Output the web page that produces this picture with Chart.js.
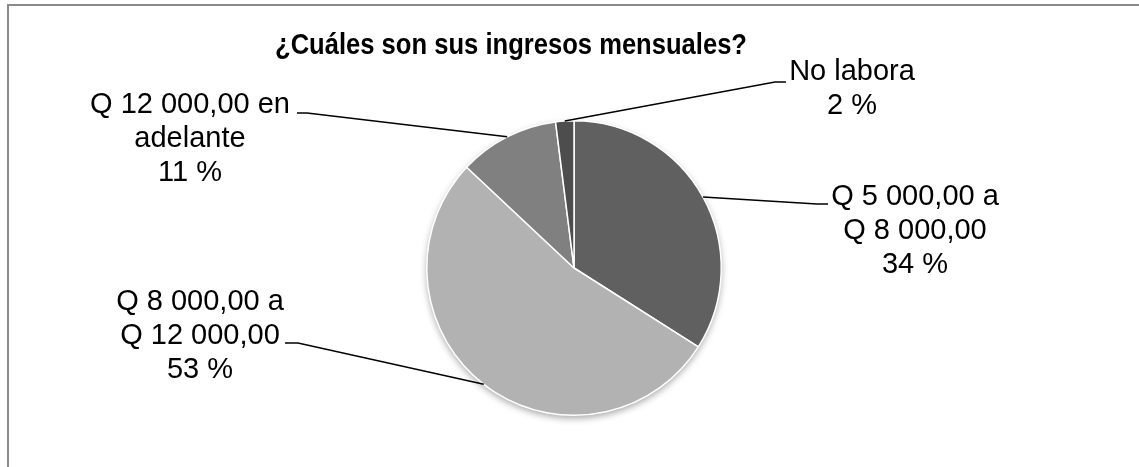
<!DOCTYPE html>
<html lang="es">
<head>
<meta charset="utf-8">
<script src="https://cdn.jsdelivr.net/npm/chart.js@4"></script>
<style>
html, body { margin: 0; padding: 0; background: #fff; overflow: hidden; }
#marco { position: absolute; left: 7px; top: 4px; width: 1200px; height: 600px; border: 2px solid #8a8a8a; }
#wrap { position: absolute; left: 0; top: 0; width: 1139px; height: 467px; }
</style>
</head>
<body>
<div id="marco"></div>
<div id="wrap"><canvas id="chartIngresos" width="1139" height="467"></canvas></div>
<script>
const titulo = '¿Cuáles son sus ingresos mensuales?';
const categorias = [
    ['Q 5 000,00 a', 'Q 8 000,00'],
    ['Q 8 000,00 a', 'Q 12 000,00'],
    ['Q 12 000,00 en', 'adelante'],
    ['No labora']
];
const porcentajes = [34, 53, 11, 2];
const colores = ['#606060', '#b2b2b2', '#808080', '#4d4d4d'];

// donde va cada etiqueta (centro del texto, primera linea) y el quiebre de la linea guia
const etiquetas = [
    { x: 915, y: 197, codo: [817, 204], fin: [828, 204] },
    { x: 200, y: 302, codo: [298, 343], fin: [285, 343] },
    { x: 190, y: 105, codo: [307, 113], fin: [297, 113] },
    { x: 852, y: 72,  codo: [775, 82],  fin: [786, 82] },
];
const FUENTE = '"Liberation Sans", Arial, sans-serif';

const chartEl = document.getElementById('chartIngresos');
const chart = new Chart(chartEl, {
    type: 'pie',
    data: {
        labels: categorias,
        datasets: [{
            data: porcentajes,
            backgroundColor: colores,
            borderColor: '#ffffff',
            borderWidth: 1.5,
        }]
    },
    options: {
        responsive: false,
        animation: false,
        layout: { padding: { left: 426, right: 417, top: 120, bottom: 51 } },
        plugins: {
            legend: { display: false },
            tooltip: { enabled: false },
            title: { display: false }
        }
    },
    plugins: [{
        id: 'sombra',
        beforeDatasetsDraw(chart) {
            const arc = chart.getDatasetMeta(0).data[0];
            const { ctx } = chart;
            ctx.save();
            ctx.shadowColor = 'rgba(0,0,0,0.35)';
            ctx.shadowBlur = 7;
            ctx.shadowOffsetY = 3;
            ctx.fillStyle = '#ffffff';
            ctx.beginPath();
            ctx.arc(arc.x, arc.y, arc.outerRadius, 0, Math.PI * 2);
            ctx.fill();
            ctx.restore();
        }
    }, {
        id: 'etiquetas',
        afterDatasetsDraw(chart) {
            const { ctx, data } = chart;
            ctx.save();
            // titulo
            ctx.fillStyle = '#000';
            ctx.font = 'bold 29px ' + FUENTE;
            ctx.textAlign = 'center';
            ctx.textBaseline = 'alphabetic';
            ctx.fillText(titulo, 511, 54, 472);

            ctx.font = '29px ' + FUENTE;
            ctx.textBaseline = 'middle';
            chart.getDatasetMeta(0).data.forEach((arc, i) => {
                const { x, y, startAngle, endAngle, outerRadius } = arc.getProps(['x', 'y', 'startAngle', 'endAngle', 'outerRadius'], true);
                const mid = (startAngle + endAngle) / 2;
                const px = x + Math.cos(mid) * outerRadius;
                const py = y + Math.sin(mid) * outerRadius;
                const e = etiquetas[i];

                ctx.strokeStyle = '#000';
                ctx.lineWidth = 1.5;
                ctx.beginPath();
                ctx.moveTo(px, py);
                ctx.lineTo(e.codo[0], e.codo[1]);
                ctx.lineTo(e.fin[0], e.fin[1]);
                ctx.stroke();

                const lineas = [...data.labels[i], data.datasets[0].data[i] + ' %'];
                lineas.forEach((t, j) => ctx.fillText(t, e.x, e.y + j * 34));
            });
            ctx.restore();
        }
    }]
});
</script>
</body>
</html>
